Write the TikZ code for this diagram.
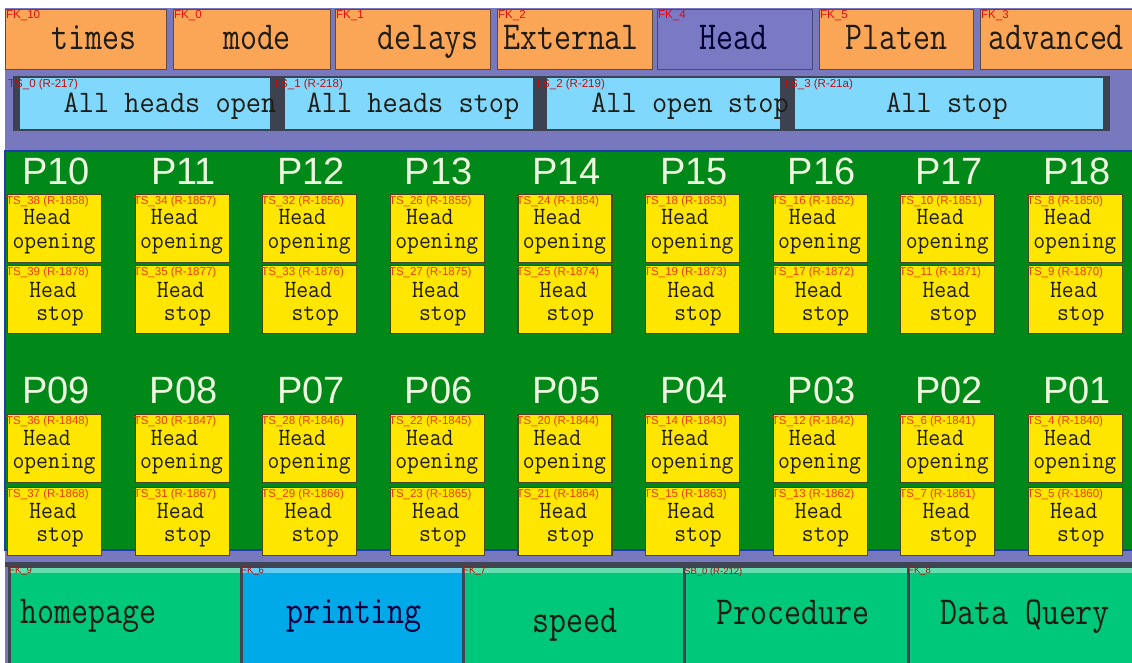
\documentclass[tikz,border=0pt]{standalone}
\usepackage{fontspec}
\newfontfamily\tagfont{Liberation Sans}
\newcommand\tallbox[2][1.2]{\scalebox{1}[#1]{#2}}
\definecolor{panelbg}{RGB}{120,120,190}
\definecolor{fkorange}{RGB}{250,166,86}
\definecolor{fkedge}{RGB}{95,75,60}
\definecolor{fkpurple}{RGB}{122,122,196}
\definecolor{fkpedge}{RGB}{70,70,130}
\definecolor{tsblue}{RGB}{128,216,252}
\definecolor{railgrey}{RGB}{60,66,80}
\definecolor{padgreen}{RGB}{0,136,24}
\definecolor{padedge}{RGB}{30,60,170}
\definecolor{cellyellow}{RGB}{255,230,0}
\definecolor{celledge}{RGB}{70,70,40}
\definecolor{navgreen}{RGB}{0,200,122}
\definecolor{navblue}{RGB}{0,170,232}
\definecolor{navedge}{RGB}{62,70,84}
\definecolor{tagred}{RGB}{228,16,16}
\definecolor{celltagred}{RGB}{236,60,10}
\definecolor{darktext}{RGB}{30,28,20}
\definecolor{plabelcol}{RGB}{238,250,222}

\begin{document}
\begin{tikzpicture}[x=1pt, y=-1pt,
  fkbtn/.style={draw=fkedge, fill=fkorange, line width=1pt, anchor=north west, minimum height=60, inner sep=0},
  fktag/.style={anchor=north west, inner sep=0, xshift=1, yshift=-1, text=tagred, font=\tagfont\fontsize{11.5}{11.5}\selectfont},
  btntxt/.style={anchor=base, inner sep=0, text=darktext, font=\ttfamily\fontsize{33}{33}\selectfont},
  tsbtn/.style={fill=tsblue, anchor=north west, minimum height=51, inner sep=0},
  tstxt/.style={anchor=base, inner sep=0, text=darktext, font=\ttfamily\fontsize{29.5}{29.5}\selectfont},
  plabel/.style={anchor=base, inner sep=0, text=plabelcol, font=\tagfont\fontsize{38}{38}\selectfont},
  headcell/.style={fill=cellyellow, draw=celledge, line width=1.2pt, anchor=north west, minimum width=94, minimum height=68, inner sep=0},
  celltag/.style={anchor=north west, inner sep=0, xshift=-1, yshift=-2, text=celltagred, font=\tagfont\fontsize{11.5}{11.5}\selectfont},
  celltxt/.style={anchor=base, inner sep=0, text=darktext, font=\ttfamily\fontsize{23}{23}\selectfont},
  navbtn/.style={draw=navedge, line width=3pt, anchor=north west, minimum height=110, inner sep=0},
  navtag/.style={anchor=north west, inner sep=0, xshift=1, yshift=-1, text=tagred!80!black, font=\tagfont\fontsize{9.5}{9.5}\selectfont}]

\useasboundingbox[fill=white] (0,0) rectangle (1132,663);
\fill[panelbg] (5,8) rectangle (1132,663);

% function keys along the top
\foreach \n/\x/\w/\tx/\t/\k in {Times/5/161/94/times/10, Mode/173/157/257/mode/0, Delays/335/155/428/delays/1, External/497/155/571/External/2, Platen/819/154/896/Platen/5, Advanced/980/152/1056/advanced/3} {
  \node[fkbtn, minimum width=\w, label={[fktag]north west:FK\_\k}] (fk\n) at (\x,9) {};
  \node[btntxt] (fk\n-txt) at (\tx,50) {\tallbox{\t}};
}
\node[fkbtn, fill=fkpurple, draw=fkpedge, minimum width=155, label={[fktag, text=red!80!purple]north west:FK\_4}] (fkHead) at (657,9) {};
\node[btntxt, text=black!80!blue] (fkHead-txt) at (733,50) {\tallbox{Head}};

% all-heads row
\fill[railgrey] (13,76) rectangle (1110,131);
\foreach \k/\x/\w/\r/\tx/\t in {0/20/250/217/170/All heads open, 1/285/248/218/413/All heads stop, 2/547/233/219/690/All open stop, 3/795/308/21a/947/All stop} {
  \node[tsbtn, minimum width=\w, label={[fktag, xshift=-13, text=tagred!85!black]north west:TS\_\k{} (R-\r)}] (ts\k) at (\x,78) {};
  \node[tstxt] (ts\k-txt) at (\tx,113) {\tallbox[1.06]{\t}};
}

% head pad
\draw[padedge, fill=padgreen, line width=1.5pt] (5,151) rectangle (1136,550);
\foreach \i/\oa/\sa/\ob/\sb in {0/38/39/36/37, 1/34/35/30/31, 2/32/33/28/29, 3/26/27/22/23, 4/24/25/20/21, 5/18/19/14/15, 6/16/17/12/13, 7/10/11/6/7, 8/8/9/4/5} {
  \pgfmathsetmacro\x{7+127.6*\i}
  \pgfmathtruncatemacro\pt{10+\i}
  \pgfmathtruncatemacro\pb{9-\i}
  \pgfmathtruncatemacro\rot{1858-\i}
  \pgfmathtruncatemacro\rst{1878-\i}
  \pgfmathtruncatemacro\rob{1848-\i}
  \pgfmathtruncatemacro\rsb{1868-\i}
  % upper block
  \node[plabel] (pT\i) at (\x+49,185) {P\pt};
  \node[headcell, label={[celltag]north west:TS\_\oa{} (R-\rot)}] (openT\i) at (\x,194) {};
  \node[celltxt] (openT\i-a) at (\x+40,225) {\tallbox[1.08]{Head}};
  \node[celltxt] (openT\i-b) at (\x+47,248) {\tallbox[1.08]{opening}};
  \node[headcell, label={[celltag]north west:TS\_\sa{} (R-\rst)}] (stopT\i) at (\x,265) {};
  \node[celltxt] (stopT\i-a) at (\x+46,297) {\tallbox[1.08]{Head}};
  \node[celltxt] (stopT\i-b) at (\x+53,320) {\tallbox[1.08]{stop}};
  % lower block
  \node[plabel] (pB\i) at (\x+49,403) {P0\pb};
  \node[headcell, label={[celltag]north west:TS\_\ob{} (R-\rob)}] (openB\i) at (\x,414) {};
  \node[celltxt] (openB\i-a) at (\x+40,445) {\tallbox[1.08]{Head}};
  \node[celltxt] (openB\i-b) at (\x+47,468) {\tallbox[1.08]{opening}};
  \node[headcell, label={[celltag]north west:TS\_\sb{} (R-\rsb)}] (stopB\i) at (\x,487) {};
  \node[celltxt] (stopB\i-a) at (\x+46,518) {\tallbox[1.08]{Head}};
  \node[celltxt] (stopB\i-b) at (\x+53,541) {\tallbox[1.08]{stop}};
}

% navigation bar
\fill[navedge] (5,562) rectangle (1132,567);
\foreach \n/\x/\w/\c/\k in {Home/8/232/navgreen/FK\_9, Print/240/222/navblue/FK\_6, Speed/462/221/navgreen/FK\_7, Proc/683/224/navgreen/SB\_0 (R-212), Query/907/228/navgreen/FK\_8} {
  \node[navbtn, fill=\c, minimum width=\w] (nav\n) at (\x,566) {};
  \fill[\c!60!white] ([xshift=2,yshift=-2]nav\n.north west) rectangle ([xshift=-2,yshift=-7]nav\n.north east);
  \node[navtag] (nav\n-tag) at (nav\n.north west) {\k};
}
\node[btntxt, anchor=base west] (navHome-txt) at (20,623) {\tallbox{homepage}};
\node[btntxt, text=black!75!blue] (navPrint-txt) at (354,623) {\tallbox{printing}};
\node[btntxt] (navSpeed-txt) at (575,632) {\tallbox{speed}};
\node[btntxt] (navProc-txt) at (793,624) {\tallbox{Procedure}};
\node[btntxt] (navQuery-txt) at (1025,624) {\tallbox{Data Query}};
\end{tikzpicture}
\end{document}
